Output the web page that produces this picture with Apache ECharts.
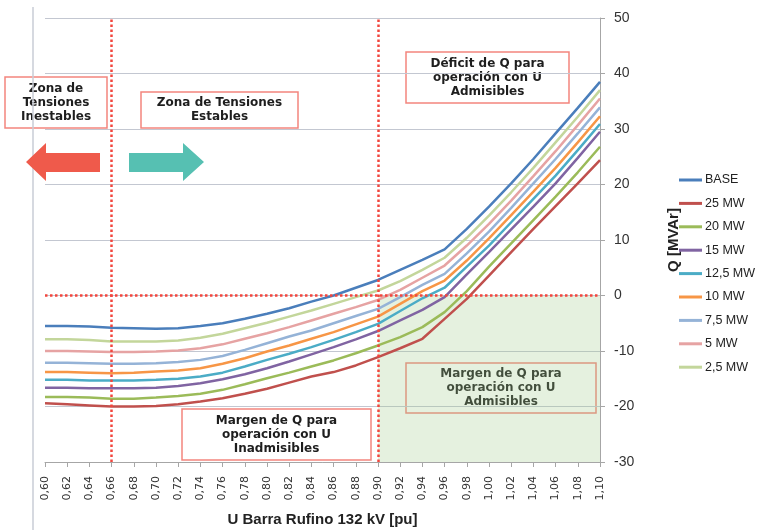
<!DOCTYPE html>
<html>
<head>
<meta charset="utf-8">
<script src="https://cdn.jsdelivr.net/npm/echarts@6/dist/echarts.min.js"></script>
<style>
  html, body { margin: 0; padding: 0; background: #fff; }
  #chart { width: 758px; height: 530px; }
</style>
</head>
<body>
<div id="chart"></div>
<script>
// Bus voltage (pu) on the Rufino 132 kV bar
const voltages = ['0,60','0,62','0,64','0,66','0,68','0,70','0,72','0,74','0,76','0,78','0,80','0,82','0,84',
                  '0,86','0,88','0,90','0,92','0,94','0,96','0,98','1,00','1,02','1,04','1,06','1,08','1,10'];

// Reactive power Q [MVAr] for each generation scenario
const qBase  = [-5.5,-5.5,-5.6,-5.8,-5.9,-6.0,-5.9,-5.5,-5.0,-4.2,-3.3,-2.3,-1.1,0.0,1.4,2.8,4.6,6.4,8.3,12.0,16.0,20.2,24.6,29.2,33.8,38.5];
const q25MW  = [-19.4,-19.6,-19.8,-20.0,-20.0,-19.9,-19.6,-19.1,-18.5,-17.7,-16.8,-15.7,-14.6,-13.8,-12.6,-11.1,-9.5,-7.8,-4.2,-0.6,3.6,7.8,12.0,16.1,20.2,24.4];
const q20MW  = [-18.3,-18.3,-18.4,-18.6,-18.6,-18.4,-18.1,-17.7,-17.0,-16.0,-14.9,-13.9,-12.8,-11.7,-10.4,-9.0,-7.5,-5.7,-3.0,0.8,5.2,9.4,13.6,17.8,22.2,26.8];
const q15MW  = [-16.6,-16.6,-16.7,-16.7,-16.7,-16.6,-16.3,-15.8,-15.1,-14.2,-13.1,-11.9,-10.6,-9.3,-7.9,-6.4,-4.5,-2.6,-0.3,3.8,7.8,11.9,16.0,20.2,24.8,29.5];
const q12_5MW = [-15.2,-15.2,-15.3,-15.3,-15.3,-15.2,-15.0,-14.6,-13.9,-12.8,-11.6,-10.5,-9.3,-8.0,-6.6,-5.1,-2.8,-0.5,1.4,5.2,9.0,13.2,17.4,21.6,26.2,30.9];
const q10MW  = [-13.8,-13.8,-13.9,-14.0,-13.9,-13.7,-13.5,-13.1,-12.3,-11.3,-10.1,-9.0,-7.8,-6.6,-5.2,-3.8,-1.5,0.8,2.7,6.3,10.3,14.5,18.7,23.0,27.6,32.3];
const q7_5MW = [-12.1,-12.1,-12.2,-12.3,-12.3,-12.2,-12.0,-11.6,-10.9,-9.8,-8.6,-7.4,-6.3,-5.0,-3.7,-2.4,-0.3,1.9,3.9,7.6,11.5,15.8,20.2,24.6,29.2,33.9];
const q5MW   = [-10.0,-10.0,-10.1,-10.2,-10.2,-10.1,-9.9,-9.5,-8.8,-7.8,-6.8,-5.7,-4.5,-3.3,-2.1,-0.8,1.0,3.2,5.4,9.0,12.9,17.1,21.5,26.0,30.7,35.5];
const q2_5MW = [-7.9,-7.9,-8.0,-8.3,-8.3,-8.3,-8.1,-7.6,-6.9,-5.9,-4.9,-3.8,-2.7,-1.5,-0.3,0.9,2.6,4.6,6.8,10.4,14.4,18.6,23.0,27.6,32.2,37.0];

const seriesNames  = ['BASE','25 MW','20 MW','15 MW','12,5 MW','10 MW','7,5 MW','5 MW','2,5 MW'];
const seriesValues = [qBase, q25MW, q20MW, q15MW, q12_5MW, q10MW, q7_5MW, q5MW, q2_5MW];
const seriesColors = ['#4a7ebb','#c0504d','#9bbb59','#8064a2','#4bacc6','#f79646','#95b3d7','#e6a3a3','#c3d69b'];

// Reference limits
const limitVoltages = ['0,66', '0,90'];
const limitQ = 0;
const yTicks = { min: -30, max: 50, step: 10 };

const chart = echarts.init(document.getElementById('chart'), null, { renderer: 'canvas' });

const sans = "'Liberation Sans', Arial, sans-serif";
const noteFont = "bold 12px 'DejaVu Sans', Verdana, sans-serif";
const dotted = { color: '#f2453d', width: 2.5, type: [2.5, 2.5] };

const series = seriesNames.map((name, i) => ({
  name,
  type: 'line',
  data: seriesValues[i],
  symbol: 'none',
  smooth: false,
  z: 3 + (seriesNames.length - i),
  lineStyle: { width: 2.5, color: seriesColors[i] },
  itemStyle: { color: seriesColors[i] }
}));

// Limits and the admissible-margin region ride on the first series
series[0].markArea = {
  silent: true,
  itemStyle: { color: 'rgba(160, 205, 140, 0.28)' },
  data: [[{ xAxis: limitVoltages[1], yAxis: limitQ }, { xAxis: voltages[voltages.length - 1], yAxis: yTicks.min }]]
};
series[0].markLine = {
  silent: true,
  symbol: 'none',
  label: { show: false },
  lineStyle: dotted,
  z: 20,
  data: [
    { xAxis: limitVoltages[0] },
    { xAxis: limitVoltages[1] },
    { yAxis: limitQ }
  ]
};

function note(cx, cy, w, h, text) {
  return {
    type: 'group',
    z: 50,
    children: [
      { type: 'rect', shape: { x: cx - w / 2, y: cy - h / 2, width: w, height: h },
        style: { fill: '#fff', stroke: '#f3857e', lineWidth: 1.5 } },
      { type: 'text', x: cx, y: cy,
        style: { text, font: noteFont, fill: '#1e1e1e', align: 'center', verticalAlign: 'middle', lineHeight: 14 } }
    ]
  };
}

chart.setOption({
  animation: false,
  backgroundColor: '#fff',
  grid: { left: 45, right: 158, top: 18, bottom: 68, containLabel: false, outerBoundsMode: 'none' },
  xAxis: {
    type: 'category',
    data: voltages,
    boundaryGap: false,
    name: 'U Barra Rufino 132 kV [pu]',
    nameLocation: 'middle',
    nameGap: 50,
    nameTextStyle: { fontFamily: sans, fontWeight: 'bold', fontSize: 15, color: '#222' },
    axisLine: { onZero: false, lineStyle: { color: '#a6a6a6', width: 1 } },
    axisTick: { show: true, interval: 0, length: 5, lineStyle: { color: '#a6a6a6' } },
    axisLabel: { interval: 0, rotate: 90, margin: 14, fontFamily: "'DejaVu Sans', Verdana, sans-serif", fontSize: 11, color: '#333' },
    splitLine: { show: false }
  },
  yAxis: {
    type: 'value',
    position: 'right',
    min: yTicks.min,
    max: yTicks.max,
    interval: yTicks.step,
    name: 'Q [MVAr]',
    nameLocation: 'middle',
    nameRotate: 90,
    nameGap: 66,
    nameTextStyle: { fontFamily: sans, fontWeight: 'bold', fontSize: 15, color: '#222' },
    axisLine: { show: true, lineStyle: { color: '#a6a6a6', width: 1 } },
    axisTick: { show: true, length: 5, lineStyle: { color: '#a6a6a6' } },
    axisLabel: { margin: 14, fontFamily: sans, fontSize: 14, color: '#333' },
    splitLine: { show: true, lineStyle: { color: '#c3c7d1', width: 1.2 } }
  },
  legend: {
    orient: 'vertical',
    left: 679,
    top: 173,
    padding: 0,
    icon: 'rect',
    itemWidth: 23,
    itemHeight: 3,
    itemGap: 9.4,
    textStyle: { fontFamily: sans, fontSize: 12.5, color: '#222', lineHeight: 14, padding: [0, 0, 0, -2] },
    data: seriesNames
  },
  series,
  graphic: [
    { type: 'line', shape: { x1: 33, y1: 7, x2: 33, y2: 530 }, style: { stroke: '#c8ccd6', lineWidth: 1.5 }, z: 1 },
    // unstable-zone arrow (pointing left)
    { type: 'polygon', z: 40,
      shape: { points: [[26, 162], [46, 143], [46, 153], [100, 153], [100, 172], [46, 172], [46, 181]] },
      style: { fill: '#ef5a4b' } },
    // stable-zone arrow (pointing right)
    { type: 'polygon', z: 40,
      shape: { points: [[129, 153], [183, 153], [183, 143], [204, 162], [183, 181], [183, 172], [129, 172]] },
      style: { fill: '#56c0b2' } },
    note(56, 102.5, 102, 51, 'Zona de\nTensiones\nInestables'),
    note(219.5, 110, 157, 36, 'Zona de Tensiones\nEstables'),
    note(487.5, 77.5, 163, 51, 'Déficit de Q para\noperación con U\nAdmisibles'),
    note(501, 388, 190, 50, 'Margen de Q para\noperación con U\nAdmisibles'),
    note(276.5, 434.5, 189, 51, 'Margen de Q para\noperación con U\nInadmisibles')
  ]
});
</script>
</body>
</html>
